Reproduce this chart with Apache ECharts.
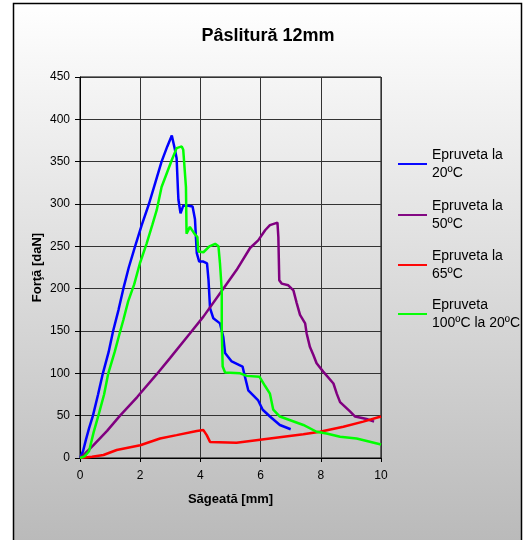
<!DOCTYPE html>
<html>
<head>
<meta charset="utf-8">
<script src="https://cdn.jsdelivr.net/npm/echarts@6/dist/echarts.min.js"></script>
<style>html,body{margin:0;padding:0;background:#fff}#c{width:523px;height:540px}</style>
</head>
<body>
<div id="c"></div>
<script>
const titleText = 'Pâslitură 12mm';
const xName = 'Săgeată [mm]';
const yName = 'Forţă [daN]';
const seriesNames = ['Epruveta la\n20ºC', 'Epruveta la\n50ºC', 'Epruveta la\n65ºC', 'Epruveta\n100ºC la 20ºC'];
const seriesColors = ['#0000ff', '#800080', '#ff0000', '#00ff00'];
const xTicks = [0, 2, 4, 6, 8, 10];
const yTicks = [0, 50, 100, 150, 200, 250, 300, 350, 400, 450];

const blue20 = [[0,0],[0.1,8],[0.2,22],[0.3,35],[0.43,50],[0.6,75],[0.76,100],[0.95,125],[1.1,150],[1.28,175],[1.44,200],[1.62,225],[1.83,250],[2.05,275],[2.29,300],[2.5,325],[2.71,350],[2.9,368],[3.05,381],[3.15,365],[3.21,354],[3.25,320],[3.27,305],[3.34,289],[3.43,298],[3.6,298],[3.74,297],[3.82,282],[3.86,255],[3.88,242],[3.96,232],[4.1,232],[4.22,230],[4.27,210],[4.32,177],[4.43,165],[4.65,159],[4.76,143],[4.82,124],[5.04,114],[5.4,108],[5.48,96],[5.59,80],[5.92,68],[6.07,57],[6.31,49],[6.64,39],[7.0,34]];
const purple50 = [[0,0],[0.17,5.5],[0.44,15],[0.9,32],[1.33,50],[1.9,72],[2.55,99],[2.99,118],[3.65,147],[4.1,167],[4.76,200],[5.2,222],[5.65,248],[5.92,257],[6.15,269],[6.31,275],[6.56,278],[6.59,261],[6.62,210],[6.7,206],[6.92,204],[7.09,198],[7.2,183],[7.31,169],[7.48,159],[7.53,147],[7.64,131],[7.75,122],[7.86,112],[8.08,102],[8.42,88],[8.53,76],[8.64,66],[8.97,55],[9.14,49],[9.52,46],[9.77,43]];
const red65 = [[0,0],[0.4,1.5],[0.78,3.5],[1.22,9.4],[2.0,15],[2.66,23],[3.21,27],[3.88,32],[4.1,33],[4.21,27],[4.32,19],[4.37,18],[5.2,18],[6.31,23],[7.42,28],[7.97,31],[8.75,37],[9.41,43],[10,49]];
const green100 = [[0,0],[0.15,2],[0.3,8],[0.45,30],[0.61,50],[0.8,75],[0.94,100],[1.15,125],[1.3,145],[1.44,163],[1.6,185],[1.8,205],[1.99,230],[2.21,253],[2.4,275],[2.55,293],[2.71,320],[2.88,336],[3.05,352],[3.21,366],[3.38,368],[3.43,364],[3.52,320],[3.54,265],[3.65,273],[3.71,273],[3.8,265],[3.9,261],[3.93,244],[4.1,243],[4.3,250],[4.49,253],[4.6,250],[4.65,230],[4.71,198],[4.71,151],[4.74,108],[4.82,101],[5.32,100],[5.54,97],[5.96,96],[6.15,85],[6.31,76],[6.42,57],[6.64,49],[7.42,39],[7.86,31],[8.19,29],[8.64,25],[9.19,23],[10,16]];
const seriesData = [blue20, purple50, red65, green100];

const FONT = 'Liberation Sans, Arial, sans-serif';
const legendTops = [132, 183, 233, 282];

const chart = echarts.init(document.getElementById('c'), null, {renderer: 'canvas'});
chart.setOption({
  animation: false,
  backgroundColor: '#ffffff',
  graphic: [{
    type: 'rect', z: -10, silent: true,
    shape: {x: 13.5, y: 3.5, width: 508, height: 545},
    style: {
      fill: new echarts.graphic.LinearGradient(0, 0, 0, 1, [
        {offset: 0, color: '#ffffff'}, {offset: 1, color: '#b9b9b9'}
      ]),
      stroke: '#000', lineWidth: 1.5
    }
  }],
  title: {
    text: titleText, left: 263, top: 22, textAlign: 'center',
    textStyle: {fontFamily: FONT, fontSize: 18, fontWeight: 'bold', color: '#000'}
  },
  legend: seriesNames.map((n, i) => ({
    data: [n], left: 393, top: legendTops[i], orient: 'vertical',
    itemWidth: 29, itemHeight: 12, icon: 'path://M0,5 L30,5 L30,7 L0,7 Z',
    selectedMode: false,
    textStyle: {fontFamily: FONT, fontSize: 14, color: '#000', lineHeight: 18, padding: [18, 0, 0, 0]}
  })),
  grid: {left: 80, right: 142, top: 77, bottom: 82, show: true, borderColor: '#000', borderWidth: 1, backgroundColor: 'transparent'},
  xAxis: {
    type: 'value', min: xTicks[0], max: xTicks[xTicks.length - 1], interval: 2,
    name: xName, nameLocation: 'middle', nameGap: 35, nameMoveOverlap: false,
    nameTextStyle: {fontFamily: FONT, fontSize: 13, fontWeight: 'bold', color: '#000'},
    axisLine: {show: true, lineStyle: {color: '#000', width: 1}},
    axisTick: {show: true, length: 4, lineStyle: {color: '#000'}},
    axisLabel: {fontFamily: FONT, fontSize: 12, color: '#000', margin: 12},
    splitLine: {show: true, lineStyle: {color: '#333', width: 1}}
  },
  yAxis: {
    type: 'value', min: yTicks[0], max: yTicks[yTicks.length - 1], interval: 50,
    name: yName, nameLocation: 'middle', nameGap: 43, nameRotate: 90, nameMoveOverlap: false,
    nameTextStyle: {fontFamily: FONT, fontSize: 13, fontWeight: 'bold', color: '#000', verticalAlign: 'middle'},
    axisLine: {show: true, lineStyle: {color: '#000', width: 1}},
    axisTick: {show: true, length: 5, lineStyle: {color: '#000'}},
    axisLabel: {fontFamily: FONT, fontSize: 12, color: '#000', margin: 10},
    splitLine: {show: true, lineStyle: {color: '#333', width: 1}}
  },
  series: seriesNames.map((n, i) => ({
    name: n, type: 'line', data: seriesData[i], showSymbol: false, symbol: 'none',
    color: seriesColors[i],
    lineStyle: {color: seriesColors[i], width: 2.5}
  }))
});
</script>
</body>
</html>
